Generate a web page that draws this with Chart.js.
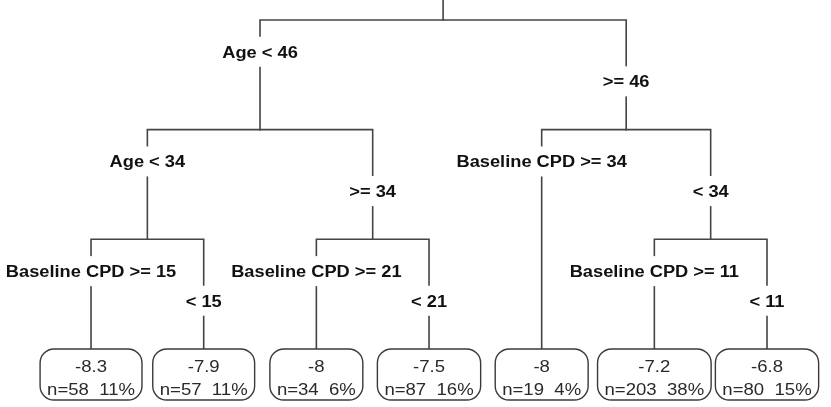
<!DOCTYPE html>
<html>
<head>
<meta charset="utf-8">
<script src="https://cdn.jsdelivr.net/npm/chart.js@4"></script>
<style>
html,body{margin:0;padding:0;background:#fff;}
#wrap{width:831px;height:407px;}
</style>
</head>
<body>
<div id="wrap"><canvas id="c" width="831" height="407"></canvas></div>
<script>
// ---- data (rpart regression tree) ----
const splitNodes   = [1, 2, 3, 4, 5, 7];
const leftLabels   = ["Age < 46", "Age < 34", "Baseline CPD >= 34", "Baseline CPD >= 15", "Baseline CPD >= 21", "Baseline CPD >= 11"];
const rightLabels  = [">= 46", ">= 34", "< 34", "< 15", "< 21", "< 11"];
const leafNodes    = [8, 9, 10, 11, 6, 14, 15];
const leafMeans    = [-8.3, -7.9, -8, -7.5, -8, -7.2, -6.8];
const leafN        = [58, 57, 34, 87, 19, 203, 80];
const leafPct      = [11, 11, 6, 16, 4, 38, 15];

// ---- layout derived from tree structure ----
const depthOf = id => Math.floor(Math.log2(id));
const leafDepth = Math.max(...leafNodes.map(depthOf));
const pos = {};
leafNodes.forEach((id, i) => { pos[id] = { x: i, y: leafDepth, leaf: true }; });
const xOf = id => {
  if (pos[id]) return pos[id].x;
  const x = (xOf(2 * id) + xOf(2 * id + 1)) / 2;
  pos[id] = { x: x, y: depthOf(id), leaf: false };
  return x;
};
xOf(1);

const LINE = '#444';
const datasets = [];
// root stub
datasets.push({ data: [{ x: pos[1].x, y: -1 }, { x: pos[1].x, y: pos[1].y }] });
splitNodes.forEach(id => {
  const L = pos[2 * id], R = pos[2 * id + 1], d = pos[id].y;
  datasets.push({ data: [{ x: L.x, y: L.y }, { x: L.x, y: d }, { x: R.x, y: d }, { x: R.x, y: R.y }] });
});
datasets.forEach(ds => Object.assign(ds, {
  showLine: true, borderColor: LINE, borderWidth: 1.6, pointRadius: 0,
  tension: 0, fill: false, borderCapStyle: 'square'
}));

const SX = 1.14;
const LABEL_FONT = 'bold 16px "Liberation Sans", Arial, sans-serif';
const LEAF_FONT = '16.3px "Liberation Sans", Arial, sans-serif';
const LEFT_FRAC = 0.29, RIGHT_FRAC = 0.56;

function sText(ctx, t, x, y) {
  ctx.save(); ctx.translate(x, y); ctx.scale(SX, 1); ctx.fillText(t, 0, 0); ctx.restore();
}

const treePlugin = {
  id: 'tree',
  afterDatasetsDraw(chart) {
    const ctx = chart.ctx, xs = chart.scales.x, ys = chart.scales.y;
    ctx.save();
    ctx.textAlign = 'center';
    ctx.textBaseline = 'alphabetic';
    // split labels
    ctx.font = LABEL_FONT;
    splitNodes.forEach((id, k) => {
      const d = pos[id].y;
      [[2 * id, leftLabels[k], LEFT_FRAC], [2 * id + 1, rightLabels[k], RIGHT_FRAC]].forEach(([cid, lab, f]) => {
        const px = xs.getPixelForValue(pos[cid].x);
        const py = ys.getPixelForValue(d + f);
        const w = ctx.measureText(lab).width * SX;
        ctx.fillStyle = '#fff';
        ctx.fillRect(px - w / 2 - 2, py - 15, w + 4, 30);
        ctx.fillStyle = '#111';
        sText(ctx, lab, px, py + 5.8);
      });
    });
    // leaves
    ctx.font = LEAF_FONT;
    leafNodes.forEach((id, i) => {
      const px = xs.getPixelForValue(pos[id].x);
      const top = ys.getPixelForValue(pos[id].y);
      const l1 = String(leafMeans[i]);
      const l2 = 'n=' + leafN[i] + '  ' + leafPct[i] + '%';
      const w = Math.max(ctx.measureText(l1).width, ctx.measureText(l2).width) * SX + 14;
      const h = 51;
      ctx.beginPath();
      ctx.roundRect(px - w / 2, top, w, h, 14);
      ctx.fillStyle = '#fff';
      ctx.fill();
      ctx.lineWidth = 1.4;
      ctx.strokeStyle = '#3a3a3a';
      ctx.stroke();
      ctx.fillStyle = '#2a2a2a';
      sText(ctx, l1, px, top + 17 + 5.8);
      sText(ctx, l2, px, top + 40 + 5.8);
    });
    ctx.restore();
  }
};

new Chart(document.getElementById('c'), {
  type: 'scatter',
  data: { datasets: datasets },
  options: {
    responsive: false,
    animation: false,
    events: [],
    layout: { padding: 0 },
    plugins: { legend: { display: false }, tooltip: { enabled: false } },
    scales: {
      x: { type: 'linear', display: false, min: -0.808, max: 6.568 },
      y: { type: 'linear', display: false, reverse: true, min: -0.182, max: 3.529 }
    }
  },
  plugins: [treePlugin]
});
</script>
</body>
</html>
